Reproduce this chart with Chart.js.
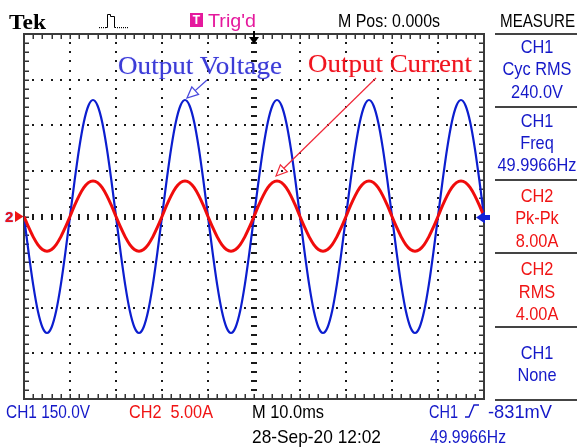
<!DOCTYPE html>
<html><head><meta charset="utf-8">
<script src="https://cdn.jsdelivr.net/npm/chart.js@4.4.0/dist/chart.umd.min.js"></script>
<style>
html,body{margin:0;padding:0;background:#fff;}
#wrap{position:relative;width:577px;height:448px;overflow:hidden;background:#fff;}
canvas{position:absolute;left:0;top:0;}
.tx{position:absolute;white-space:nowrap;font-family:"Liberation Sans",Arial,sans-serif;font-size:19px;line-height:19px;transform-origin:0 50%;}
.sf{position:absolute;white-space:nowrap;font-family:"Liberation Serif","Times New Roman",serif;line-height:1;transform-origin:0 50%;}
.tbox{position:absolute;left:190px;top:13px;width:13px;height:14px;background:#e5199d;color:#fff;font:bold 12px "Liberation Sans",Arial,sans-serif;line-height:14px;text-align:center;}
</style></head>
<body><div id="wrap"><canvas id="c" width="577" height="448"></canvas><div class="tbox">T</div></div>
<script>
// ---- scope settings ----
const msPerDiv = 10, voltsPerDiv = 150, ampsPerDiv = 5, hDivs = 10, vDivs = 8;

// ---- sample times (ms) ----
const timeMs = [0,1,2,3,4,5,6,7,8,9,10,11,12,13,14,15,16,17,18,19,
 20,21,22,23,24,25,26,27,28,29,30,31,32,33,34,35,36,37,38,39,
 40,41,42,43,44,45,46,47,48,49,50,51,52,53,54,55,56,57,58,59,
 60,61,62,63,64,65,66,67,68,69,70,71,72,73,74,75,76,77,78,79,
 80,81,82,83,84,85,86,87,88,89,90,91,92,93,94,95,96,97,98,99,100];

// ---- CH1 output voltage (V) ----
const voltageV = [0,-118,-225,-310,-364,-383,-364,-310,-225,-118,0,118,225,310,364,383,364,310,225,118,
 0,-118,-225,-310,-364,-383,-364,-310,-225,-118,0,118,225,310,364,383,364,310,225,118,
 0,-118,-225,-310,-364,-383,-364,-310,-225,-118,0,118,225,310,364,383,364,310,225,118,
 0,-118,-225,-310,-364,-383,-364,-310,-225,-118,0,118,225,310,364,383,364,310,225,118,
 0,-118,-225,-310,-364,-383,-364,-310,-225,-118,0,118,225,310,364,383,364,310,225,118,0];

// ---- CH2 output current (A) ----
const currentA = [0,-1.17,-2.23,-3.07,-3.61,-3.8,-3.61,-3.07,-2.23,-1.17,0,1.21,2.29,3.16,3.71,3.9,3.71,3.16,2.29,1.21,
 0,-1.17,-2.23,-3.07,-3.61,-3.8,-3.61,-3.07,-2.23,-1.17,0,1.21,2.29,3.16,3.71,3.9,3.71,3.16,2.29,1.21,
 0,-1.17,-2.23,-3.07,-3.61,-3.8,-3.61,-3.07,-2.23,-1.17,0,1.21,2.29,3.16,3.71,3.9,3.71,3.16,2.29,1.21,
 0,-1.17,-2.23,-3.07,-3.61,-3.8,-3.61,-3.07,-2.23,-1.17,0,1.21,2.29,3.16,3.71,3.9,3.71,3.16,2.29,1.21,
 0,-1.17,-2.23,-3.07,-3.61,-3.8,-3.61,-3.07,-2.23,-1.17,0,1.21,2.29,3.16,3.71,3.9,3.71,3.16,2.29,1.21,0];

// ---- screen texts ----
const BLUE = '#1418c8', RED = '#f01414', MAG = '#e5199d', BLK = '#000';
// [text, left, right, centerY, color]
const statusTexts = [
 ['M Pos: 0.000s', 338, 440, 20, BLK],
 ['MEASURE', 500, 575, 20, BLK],
 ["Trig'd", 208, 256, 20, MAG],
 ['CH1 150.0V', 6, 90, 411, BLUE],
 ['CH2\u00a0 5.00A', 129, 213, 411, RED],
 ['M 10.0ms', 252, 324, 411, BLK],
 ['CH1', 429, 458, 411, BLUE],
 ['-831mV', 488, 552, 411, BLUE],
 ['28-Sep-20 12:02', 252, 381, 436, BLK],
 ['49.9966Hz', 430, 506, 436, BLUE]
];
// measure panel: [text, centerY, color]
const measureTexts = [
 ['CH1',46,BLUE],['Cyc RMS',68,BLUE],['240.0V',91,BLUE],
 ['CH1',120,BLUE],['Freq',142,BLUE],['49.9966Hz',164,BLUE],
 ['CH2',195,RED],['Pk-Pk',217,RED],['8.00A',240,RED],
 ['CH2',268,RED],['RMS',291,RED],['4.00A',313,RED],
 ['CH1',352,BLUE],['None',374,BLUE]
];
const panelLines = [34,107,180,253,327,400];

const wrap = document.getElementById('wrap');
const fitList = [];
function addText(txt, cls, css, w){
  const el = document.createElement('div');
  el.className = cls; el.textContent = txt;
  Object.assign(el.style, css);
  wrap.appendChild(el);
  fitList.push([el, w]);
  return el;
}
statusTexts.forEach(([t,l,r,cy,c])=>addText(t,'tx',{left:l+'px',top:(cy-9.3)+'px',color:c},r-l));
measureTexts.forEach(([t,cy,c])=>addText(t,'tx',{left:'487px',width:'100px',textAlign:'center',top:(cy-9.3)+'px',color:c,transform:'scaleX(0.86)',transformOrigin:'50% 50%'},null));
addText('Tek','sf',{left:'9px',top:(29-0.8375*22)+'px',fontSize:'22px',fontWeight:'bold',color:'#000'},37);
addText('Output Voltage','sf',{left:'118px',top:(75-0.8375*26)+'px',fontSize:'26px',color:'#3c3cd6',textShadow:'0 0 1px rgba(120,120,255,0.6)'},164);
addText('Output Current','sf',{left:'308px',top:(73-0.8375*26)+'px',fontSize:'26px',color:'#f0141e',textShadow:'0 0 1px rgba(255,120,140,0.6)'},164);
addText('2','tx',{left:'5px',top:(216.5-7.5)+'px',fontSize:'15px',lineHeight:'15px',fontWeight:'bold',color:RED,textShadow:'0 0 1px #3040ff'},null);

function fitAll(){
  fitList.forEach(([el,w])=>{
    if(!w) return;
    el.style.transform='none';
    const nat = el.getBoundingClientRect().width;
    el.style.transform='scaleX('+(w/nat)+')';
  });
}
fitAll();
if(document.fonts && document.fonts.ready) document.fonts.ready.then(fitAll);

// ---- graticule plugin (uses the chart scales) ----
const graticule = {
  id:'graticule',
  beforeDatasetsDraw(chart){
    const {ctx, chartArea:a, scales:{x, yV}} = chart;
    const vMin = -vDivs/2*voltsPerDiv;
    const minorT = msPerDiv/5, minorV = voltsPerDiv/5;
    const cx = x.getPixelForValue(hDivs/2*msPerDiv), cy = yV.getPixelForValue(0);
    ctx.save();
    ctx.fillStyle = '#1a1a1a';
    for(let d=1; d<hDivs; d++){
      if(d===hDivs/2) continue;
      const px = Math.round(x.getPixelForValue(d*msPerDiv));
      for(let k=1; k<vDivs*5; k++){
        const py = Math.round(yV.getPixelForValue(vMin+k*minorV));
        ctx.fillRect(px-1, py-1, 2, 2);
      }
    }
    for(let d=1; d<vDivs; d++){
      if(d===vDivs/2) continue;
      const py = Math.round(yV.getPixelForValue(vMin+d*voltsPerDiv));
      for(let k=1; k<hDivs*5; k++){
        const px = Math.round(x.getPixelForValue(k*minorT));
        ctx.fillRect(px-1, py-1, 2, 2);
      }
    }
    for(let k=1; k<hDivs*5; k++){
      const px = Math.round(x.getPixelForValue(k*minorT));
      ctx.fillRect(px-1, Math.round(cy)-3, 2, 6);
    }
    for(let k=1; k<vDivs*5; k++){
      const py = Math.round(yV.getPixelForValue(vMin+k*minorV));
      ctx.fillRect(Math.round(cx)-3, py-1, 6, 2);
    }
    ctx.fillStyle = '#333';
    for(let k=1; k<hDivs*5; k++){
      const px = Math.round(x.getPixelForValue(k*minorT));
      ctx.fillRect(px-0.5, a.top, 1.5, 5);
      ctx.fillRect(px-0.5, a.bottom-5, 1.5, 5);
    }
    for(let k=1; k<vDivs*5; k++){
      const py = Math.round(yV.getPixelForValue(vMin+k*minorV));
      ctx.fillRect(a.left, py-0.5, 5, 1.5);
      ctx.fillRect(a.right-5, py-0.5, 5, 1.5);
    }
    ctx.strokeStyle = '#3a3a3a'; ctx.lineWidth = 2;
    ctx.strokeRect(a.left, a.top, a.right-a.left, a.bottom-a.top);
    ctx.fillStyle = '#444';
    panelLines.forEach(y=>ctx.fillRect(495, y-1, 82, 2));
    ctx.restore();
  },
  afterDatasetsDraw(chart){
    const {ctx, chartArea:a, scales:{x, yV}} = chart;
    const cx = x.getPixelForValue(hDivs/2*msPerDiv), cy = yV.getPixelForValue(0);
    ctx.save();
    ctx.fillStyle = RED;
    ctx.beginPath(); ctx.moveTo(15,cy-5.5); ctx.lineTo(23.5,cy); ctx.lineTo(15,cy+5.5); ctx.closePath(); ctx.fill();
    ctx.fillStyle = '#1020d8';
    ctx.beginPath(); ctx.moveTo(a.right-8,cy+1); ctx.lineTo(a.right+1,cy-5); ctx.lineTo(a.right+1,cy+7); ctx.closePath(); ctx.fill();
    ctx.fillRect(a.right, cy-1.5, 6, 5);
    ctx.fillStyle = '#000';
    ctx.fillRect(cx-1, a.top-3, 2, 7);
    ctx.beginPath(); ctx.moveTo(cx-5,a.top+3); ctx.lineTo(cx+5,a.top+3); ctx.lineTo(cx,a.top+10); ctx.closePath(); ctx.fill();
    function arrow(x0,y0,x1,y1,col,lw){
      ctx.strokeStyle = col; ctx.lineWidth = lw;
      const dx=x1-x0, dy=y1-y0, L=Math.hypot(dx,dy), ux=dx/L, uy=dy/L;
      const hl=11, hw=5;
      const bx=x1-ux*hl, by=y1-uy*hl;
      ctx.beginPath(); ctx.moveTo(x0,y0); ctx.lineTo(bx,by); ctx.stroke();
      ctx.beginPath(); ctx.moveTo(x1,y1); ctx.lineTo(bx-uy*hw,by+ux*hw); ctx.lineTo(bx+uy*hw,by-ux*hw); ctx.closePath(); ctx.stroke();
    }
    arrow(207,80,187,98,'#4848dc',1.3);
    arrow(376,78,276,176,'#f02838',1.2);
    ctx.fillStyle = '#000';
    [99,101,103,105,117,119,121,123,125,127].forEach(px=>ctx.fillRect(px,27,1,1.2));
    ctx.strokeStyle = '#000'; ctx.lineWidth = 1;
    ctx.beginPath(); ctx.moveTo(106,27.5); ctx.lineTo(107.5,27.5); ctx.lineTo(107.5,14.5); ctx.lineTo(110.5,14.5);
    ctx.lineTo(110.5,16.5); ctx.lineTo(114.5,16.5); ctx.lineTo(114.5,27.5); ctx.lineTo(116,27.5); ctx.stroke();
    ctx.strokeStyle = BLUE; ctx.lineWidth = 1.4;
    ctx.beginPath(); ctx.moveTo(465,417); ctx.lineTo(469,417); ctx.lineTo(474,405); ctx.lineTo(479,405); ctx.stroke();
    ctx.restore();
  }
};

new Chart(document.getElementById('c'), {
  type:'line',
  data:{datasets:[
    {label:'Output Current', data: timeMs.map((t,i)=>({x:t, y:currentA[i]})), yAxisID:'yI',
     borderColor:'#f00c0c', borderWidth:3, pointRadius:0, cubicInterpolationMode:'monotone', order:0},
    {label:'Output Voltage', data: timeMs.map((t,i)=>({x:t, y:voltageV[i]})), yAxisID:'yV',
     borderColor:'#0c1ecf', borderWidth:2.2, pointRadius:0, cubicInterpolationMode:'monotone', order:1}
  ]},
  options:{
    responsive:false, animation:false, devicePixelRatio:1, events:[],
    layout:{padding:{left:24, right:93, top:34, bottom:49}},
    plugins:{legend:{display:false}, tooltip:{enabled:false}},
    scales:{
      x:{type:'linear', min:0, max:hDivs*msPerDiv, display:false},
      yV:{type:'linear', min:-vDivs/2*voltsPerDiv, max:vDivs/2*voltsPerDiv, display:false},
      yI:{type:'linear', min:-vDivs/2*ampsPerDiv, max:vDivs/2*ampsPerDiv, display:false}
    }
  },
  plugins:[graticule]
});
</script>
</body></html>
